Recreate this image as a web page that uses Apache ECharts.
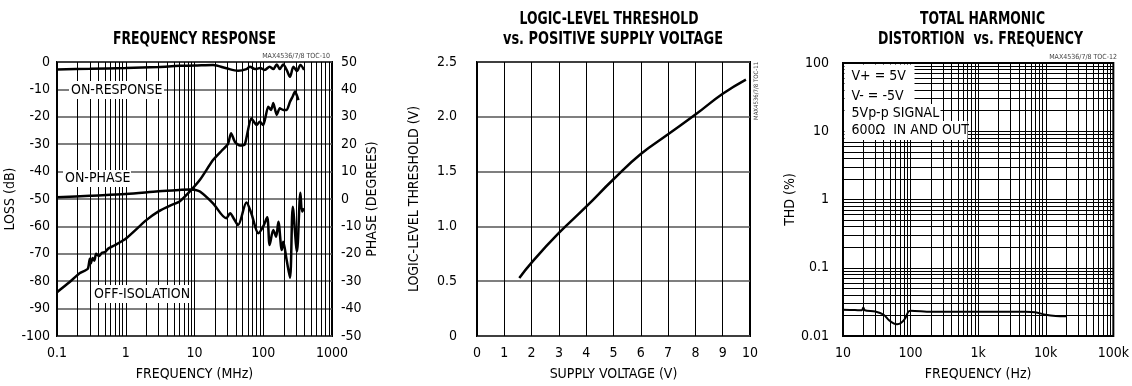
<!DOCTYPE html>
<html>
<head>
<meta charset="utf-8">
<script src="https://cdn.jsdelivr.net/npm/echarts@6/dist/echarts.min.js"></script>
<style>
html, body { margin: 0; padding: 0; background: #fff; }
#main { width: 1132px; height: 386px; }
</style>
</head>
<body>
<div id="main"></div>
<script>
// frequency response (MHz / dB / degrees)
var respFreq = [0.1, 0.3, 1, 3, 6, 10, 18.6, 29, 43, 57, 64, 76, 90, 105, 124, 140, 157, 174, 195, 219, 245, 275, 309, 347, 393];
var respLoss = [-2.7, -2.5, -2.2, -1.8, -1.4, -1.3, -1.1, -2.3, -3.2, -2.6, -1.7, -2.6, -2.2, -2.9, -1.7, -2.6, -0.9, -2.6, -0.9, -2.9, -5.4, -1.7, -3.3, -1.1, -2.9];

var isoFreq = [0.1, 0.15, 0.213, 0.28, 0.3, 0.31, 0.33, 0.35, 0.37, 0.41, 0.45, 0.5, 0.55, 0.7, 1.02, 1.99, 3, 4.5, 6, 8.5, 12, 18.6, 25, 30.6, 34, 39, 46, 54, 67, 80, 89, 100, 118, 130, 140, 157, 174, 195, 219, 245, 269, 290, 325];
var isoLoss = [-84, -80.5, -77.1, -75.5, -71.8, -73.5, -71.5, -72.5, -70, -70.8, -69.6, -69.4, -68.2, -66.8, -64.3, -57.7, -54.5, -52.3, -51, -47.3, -43, -35.8, -32.3, -30, -26, -29.3, -30.5, -30, -20.5, -23, -21.8, -23, -16.3, -17.5, -15, -19.3, -16.9, -17.5, -17.5, -14.5, -12.5, -10.8, -13.9];

var phaseFreq = [0.1, 0.3, 1, 3, 6, 8.5, 10, 12, 18.6, 29, 33, 37, 43, 57, 67, 85, 100, 114, 124, 140, 154, 166, 186, 195, 219, 245, 269, 309, 347, 367, 393];
var phaseDeg = [0.6, 1.2, 1.8, 2.8, 3.3, 3.5, 3.4, 2.7, -1.6, -7, -5.2, -7, -9.5, -1.3, -5.2, -12.5, -10, -6.7, -16.8, -11.3, -13.8, -8.3, -18.6, -15.6, -22.3, -28.8, -2.8, -19.2, 2.3, -4.6, -3.4];

// logic-level threshold
var supplyV = [1.55, 2, 3, 4, 5, 6, 7, 8, 9, 9.85];
var thresholdV = [0.53, 0.67, 0.94, 1.18, 1.43, 1.66, 1.84, 2.02, 2.21, 2.34];

// THD vs frequency
var thdFreq = [10, 15, 19, 20, 21, 30, 40, 48, 57, 63, 72, 83, 92, 100, 200, 1000, 5000, 7000, 10000, 14000, 20000];
var thdPct = [0.0242, 0.024, 0.0238, 0.0262, 0.0238, 0.0228, 0.0205, 0.017, 0.0152, 0.0149, 0.0155, 0.018, 0.0225, 0.0234, 0.0226, 0.0226, 0.0226, 0.0222, 0.0205, 0.0197, 0.0195];

var FONT = "'Liberation Sans Narrow', 'DejaVu Sans Condensed', Roboto, sans-serif";
var HEAD_FONT = "bold 17px 'DejaVu Sans', sans-serif";

function zip(a, b) {
    return a.map(function (v, i) { return [v, b[i]]; });
}
// 2..9 lines inside each decade
function minorVals(e0, e1) {
    var out = [];
    for (var e = e0; e < e1; e++) {
        for (var k = 2; k <= 9; k++) out.push(parseFloat((k * Math.pow(10, e)).toPrecision(6)));
    }
    return out;
}
function gridLines(vals, dim, color, width) {
    return {
        silent: true, symbol: 'none', label: { show: false },
        lineStyle: { color: color, width: width, type: 'solid' },
        data: vals.map(function (v) { var o = {}; o[dim] = v; return o; })
    };
}

// condensed bold headings: squeeze a heavy font to the printed width
var measureCtx = document.createElement('canvas').getContext('2d');
function heading(text, cx, cy, targetW) {
    measureCtx.font = HEAD_FONT;
    var w = measureCtx.measureText(text).width;
    return { type: 'text', x: cx, y: cy, scaleX: targetW / w, z: 100,
             style: { text: text, font: HEAD_FONT, fill: '#000', align: 'center', verticalAlign: 'middle' } };
}
// white box with a note on it
function note(text, x, y, w, h, tx) {
    return { type: 'group', z: 100, children: [
        { type: 'rect', z: 100, shape: { x: x, y: y, width: w, height: h }, style: { fill: '#fff' } },
        { type: 'text', z: 101, x: x + (tx || 2), y: y + h / 2,
          style: { text: text, font: '14px ' + FONT, fill: '#000', verticalAlign: 'middle' } }
    ] };
}

var lbl = { color: '#000', fontSize: 14, fontFamily: FONT };
var nameStyle = { color: '#000', fontSize: 14, fontFamily: FONT };
var hideLine = { show: false };

var myChart = echarts.init(document.getElementById('main'));
myChart.setOption({
    animation: false,
    backgroundColor: '#fff',
    grid: [
        { left: 57, top: 62, width: 275, height: 274, show: true, borderColor: '#000', borderWidth: 2 },
        { left: 477, top: 62, width: 273, height: 274, show: true, borderColor: '#000', borderWidth: 2 },
        { left: 843, top: 63, width: 276, height: 274, show: true, borderColor: '#000', borderWidth: 2 }
    ],
    xAxis: [
        { gridIndex: 0, type: 'log', logBase: 10, min: 0.1, max: 1000,
          axisLine: hideLine, axisTick: hideLine,
          splitLine: { show: true, lineStyle: { color: '#000', width: 1 } },
          axisLabel: Object.assign({ margin: 10, formatter: function (v) { return String(v); } }, lbl),
          name: 'FREQUENCY (MHz)', nameLocation: 'middle', nameGap: 31, nameTextStyle: nameStyle },
        { gridIndex: 1, type: 'value', min: 0, max: 10, interval: 1,
          axisLine: hideLine, axisTick: hideLine,
          splitLine: { show: true, lineStyle: { color: '#000', width: 1 } },
          axisLabel: Object.assign({ margin: 10 }, lbl),
          name: 'SUPPLY VOLTAGE (V)', nameLocation: 'middle', nameGap: 31, nameTextStyle: nameStyle },
        { gridIndex: 2, type: 'log', logBase: 10, min: 10, max: 100000,
          axisLine: hideLine, axisTick: hideLine,
          splitLine: { show: true, lineStyle: { color: '#000', width: 1 } },
          axisLabel: Object.assign({ margin: 10, formatter: function (v) {
              return v >= 1000 ? (v / 1000) + 'k' : String(v);
          } }, lbl),
          name: 'FREQUENCY (Hz)', nameLocation: 'middle', nameGap: 31, nameTextStyle: nameStyle }
    ],
    yAxis: [
        { gridIndex: 0, type: 'value', min: -100, max: 0, interval: 10,
          axisLine: hideLine, axisTick: hideLine,
          splitLine: { show: true, lineStyle: { color: '#555', width: 1.5 } },
          axisLabel: Object.assign({ margin: 7 }, lbl),
          name: 'LOSS (dB)', nameLocation: 'middle', nameGap: 38, nameRotate: 90, nameTextStyle: nameStyle },
        { gridIndex: 0, type: 'value', min: -50, max: 50, interval: 10, position: 'right',
          axisLine: hideLine, axisTick: hideLine, splitLine: hideLine,
          axisLabel: Object.assign({ margin: 9 }, lbl),
          name: 'PHASE (DEGREES)', nameLocation: 'middle', nameGap: 33, nameRotate: 90, nameTextStyle: nameStyle },
        { gridIndex: 1, type: 'value', min: 0, max: 2.5, interval: 0.5,
          axisLine: hideLine, axisTick: hideLine,
          splitLine: { show: true, lineStyle: { color: '#555', width: 1.5 } },
          axisLabel: Object.assign({ margin: 20, formatter: function (v) {
              return v === 0 ? '0' : v.toFixed(1);
          } }, lbl),
          name: 'LOGIC-LEVEL THRESHOLD (V)', nameLocation: 'middle', nameGap: 56, nameRotate: 90, nameTextStyle: nameStyle },
        { gridIndex: 2, type: 'log', logBase: 10, min: 0.01, max: 100,
          axisLine: hideLine, axisTick: hideLine,
          splitLine: { show: true, lineStyle: { color: '#000', width: 1 } },
          axisLabel: Object.assign({ margin: 14 }, lbl),
          name: 'THD (%)', nameLocation: 'middle', nameGap: 36, nameRotate: 90, nameTextStyle: nameStyle }
    ],
    series: [
        { name: 'ON-RESPONSE', type: 'line', xAxisIndex: 0, yAxisIndex: 0, data: zip(respFreq, respLoss),
          showSymbol: false, smooth: 0.3, lineStyle: { color: '#000', width: 2.5 }, z: 5,
          markLine: gridLines(minorVals(-1, 3), 'xAxis', '#000', 1) },
        { name: 'OFF-ISOLATION', type: 'line', xAxisIndex: 0, yAxisIndex: 0, data: zip(isoFreq, isoLoss),
          showSymbol: false, smooth: 0.2, lineStyle: { color: '#000', width: 2.5 }, z: 5 },
        { name: 'ON-PHASE', type: 'line', xAxisIndex: 0, yAxisIndex: 1, data: zip(phaseFreq, phaseDeg),
          showSymbol: false, smooth: 0.3, lineStyle: { color: '#000', width: 2.5 }, z: 5 },
        { name: 'THRESHOLD', type: 'line', xAxisIndex: 1, yAxisIndex: 2, data: zip(supplyV, thresholdV),
          showSymbol: false, smooth: true, lineStyle: { color: '#000', width: 2.5 }, z: 5 },
        { name: 'THD', type: 'line', xAxisIndex: 2, yAxisIndex: 3, data: zip(thdFreq, thdPct),
          showSymbol: false, smooth: 0.3, lineStyle: { color: '#000', width: 2 }, z: 5,
          markLine: gridLines(minorVals(1, 5), 'xAxis', '#000', 1) },
        { name: 'THD-grid', type: 'line', xAxisIndex: 2, yAxisIndex: 3, data: [],
          markLine: gridLines(minorVals(-2, 2), 'yAxis', '#000', 1) }
    ],
    graphic: [
        heading('FREQUENCY RESPONSE', 194.5, 40, 163),
        heading('LOGIC-LEVEL THRESHOLD', 609, 20, 179),
        heading('vs. POSITIVE SUPPLY VOLTAGE', 613, 40, 220),
        heading('TOTAL HARMONIC', 982.5, 20, 125),
        heading('DISTORTION  vs. FREQUENCY', 980.5, 40, 205),
        note('ON-RESPONSE', 69, 81, 95, 18),
        note('ON-PHASE', 63, 170, 68, 17),
        note('OFF-ISOLATION', 92, 285, 99, 18),
        note('V+ = 5V', 844.5, 64.5, 70, 23, 7),
        note('V- = -5V', 844.5, 87, 70, 18, 7),
        note('5Vp-p SIGNAL', 844.5, 104, 96, 18, 7),
        note('600\u03A9  IN AND OUT', 844.5, 121, 123, 19, 7),
        { type: 'text', x: 330, y: 53, style: { text: 'MAX4536/7/8 TOC-10', font: '7px ' + FONT, fill: '#444', align: 'right' } },
        { type: 'text', x: 1117, y: 54, style: { text: 'MAX4536/7/8 TOC-12', font: '7px ' + FONT, fill: '#444', align: 'right' } },
        { type: 'text', x: 753, y: 120, rotation: Math.PI / 2, style: { text: 'MAX4536/7/8 TOC-11', font: '6px ' + FONT, fill: '#444' } }
    ]
});
</script>
</body>
</html>
